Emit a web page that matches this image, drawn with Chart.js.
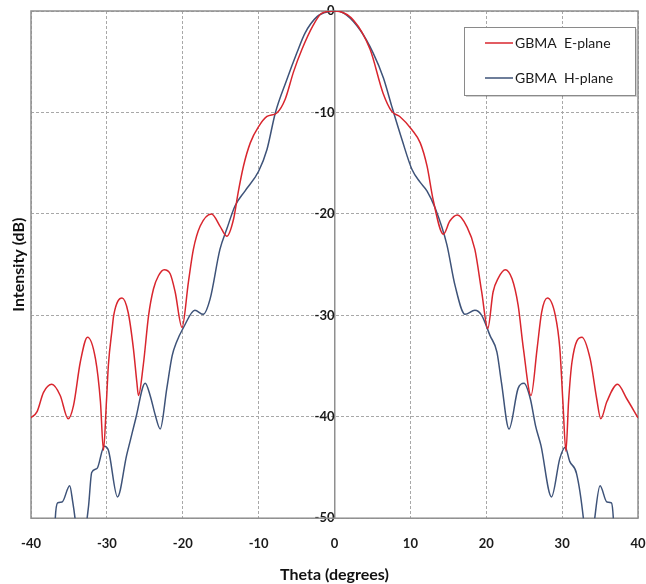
<!DOCTYPE html>
<html>
<head>
<meta charset="utf-8">
<script src="https://cdn.jsdelivr.net/npm/chart.js@4"></script>
<style>
html,body{margin:0;padding:0;background:#fff;}
#wrap{width:646px;height:584px;position:relative;}
</style>
</head>
<body>
<div id="wrap"><canvas id="c" width="646" height="584"></canvas></div>
<script>
// ---- data ----
const xTicks = [-40, -30, -20, -10, 0, 10, 20, 30, 40];
const yTicks = [0, -10, -20, -30, -40, -50];

const seriesNames = ["GBMA  E-plane", "GBMA  H-plane"];

const thetaE = [-40, -39.2, -38.35, -37.25, -36.15, -35.1, -34.4, -33.5, -32.55, -31.5, -30.85, -30.45, -30.05, -29.8, -29.3, -29.1, -28.0, -27.2, -26.5, -26.05, -25.84, -25.2, -24.5, -23.86, -23.2, -22.45, -21.66, -21.0, -20.1, -19.25, -18.6, -17.7, -16.2, -15.1, -14.2, -13.3, -12.7, -12.0, -11.1, -10.0, -8.9, -7.6, -6.5, -5.4, -4.3, -2.8, -1.7, 0, 2.5, 4.7, 6.4, 7.55, 8.6, 10.2, 11.3, 12.2, 13.0, 14.35, 15.2, 16.2, 17.4, 18.5, 19.4, 20.2, 20.9, 21.6, 22.5, 23.4, 24.2, 24.9, 25.9, 26.7, 27.3, 28.05, 29.1, 29.7, 30.1, 30.5, 30.85, 31.3, 32.6, 33.7, 34.55, 35.1, 35.9, 37.3, 38.5, 40];
const dbE    = [-40.1, -39.5, -37.6, -36.8, -37.9, -40.2, -38.9, -34.6, -32.15, -34.3, -38.5, -43.3, -38.4, -34.9, -31.3, -30.0, -28.3, -29.7, -33.3, -36.6, -37.9, -34.9, -30.0, -27.4, -26.1, -25.5, -25.9, -27.7, -31.2, -26.7, -23.5, -21.2, -20.0, -21.2, -22.2, -20.5, -17.9, -15.3, -13.0, -11.4, -10.4, -10.05, -8.7, -6.0, -3.8, -1.4, -0.23, 0, -0.9, -3.8, -8.1, -9.9, -10.4, -11.7, -13.0, -15.3, -18.6, -22.0, -20.7, -20.1, -21.2, -23.5, -27.7, -31.3, -27.7, -26.3, -25.5, -26.4, -29.0, -33.3, -37.9, -33.3, -29.7, -28.3, -30.0, -33.3, -38.5, -43.4, -38.5, -34.6, -32.15, -34.3, -38.2, -40.2, -38.5, -36.8, -38.2, -40.1];

const thetaH = [-40, -37.1, -36.8, -36.5, -35.9, -34.9, -34.5, -34.2, -33.4, -32.6, -32.4, -32.0, -31.3, -30.35, -29.8, -28.6, -27.4, -26.9, -26.2, -24.95, -24.3, -23.6, -22.97, -22.1, -21.4, -20.8, -19.9, -18.4, -17.3, -16.4, -15.1, -14.2, -13.1, -11.8, -10.0, -8.9, -7.8, -6.3, -4.97, -3.9, -2.3, -0.8, 0.3, 1.6, 3.4, 5.1, 6.45, 7.55, 8.9, 10.2, 11.3, 12.2, 13.25, 14.8, 15.9, 17.2, 18.5, 19.4, 20.5, 21.4, 22.0, 23.0, 24.2, 24.98, 25.8, 26.5, 27.2, 28.6, 29.7, 30.4, 31.0, 31.9, 32.8, 33.5, 34.3, 35.0, 35.9, 36.5, 36.75, 37.1, 40];
const dbH    = [-62, -56, -50, -48.5, -48.4, -46.8, -48.4, -50, -56, -50, -48.7, -45.5, -45.1, -42.9, -43.3, -47.9, -43.8, -42.3, -40.2, -36.7, -37.9, -39.9, -41.2, -37.2, -34.0, -32.6, -31.2, -29.5, -29.9, -28.4, -23.5, -21.5, -19.2, -17.75, -15.8, -13.65, -10.05, -6.8, -4.15, -2.2, -0.56, -0.07, 0, -0.4, -1.9, -4.15, -6.6, -9.4, -12.7, -15.6, -16.9, -17.75, -19.4, -23.0, -27.1, -29.9, -29.5, -30.0, -32.0, -33.6, -36.6, -41.2, -37.2, -36.7, -38.2, -40.9, -42.8, -47.9, -44.1, -43.0, -44.4, -45.6, -50, -56, -50, -46.8, -48.4, -48.5, -50, -56, -62];

const colorE = "#d9262e";
const colorH = "#3e5379";
const gridColor = "#a8a8a8";
const frameColor = "#8f8f8f";
const FONT = "Lato, 'Open Sans', 'DejaVu Sans', sans-serif";

const toPoints = (xs, ys) => xs.map((x, i) => ({x: x, y: ys[i]}));

const framePlugin = {
  id: 'frame',
  beforeDatasetsDraw(chart) {
    const {ctx, chartArea: a} = chart;
    ctx.save();
    ctx.strokeStyle = frameColor;
    ctx.lineWidth = 1.5;
    ctx.setLineDash([]);
    ctx.strokeRect(a.left, a.top, a.right - a.left, a.bottom - a.top);
    ctx.restore();
  },
  afterDraw(chart) {
    const {ctx, chartArea: a} = chart;
    ctx.save();
    ctx.fillStyle = "#111";
    ctx.font = "bold 16px " + FONT;
    ctx.textAlign = "center";
    ctx.textBaseline = "middle";
    ctx.translate(19, (a.top + a.bottom) / 2);
    ctx.rotate(-Math.PI / 2);
    ctx.fillText("Intensity (dB)", 0, 0);
    ctx.restore();

    ctx.save();
    const bx = 464, by = 27, bw = 171, bh = 68;
    ctx.fillStyle = "rgba(0,0,0,0.18)";
    ctx.fillRect(bx + 2, by + 2, bw, bh);
    ctx.fillStyle = "#fff";
    ctx.fillRect(bx, by, bw, bh);
    ctx.strokeStyle = "#8a8a8a";
    ctx.lineWidth = 1;
    ctx.strokeRect(bx + 0.5, by + 0.5, bw, bh);
    const rows = [43, 78];
    chart.data.datasets.forEach((ds, i) => {
      const y = rows[i];
      ctx.strokeStyle = ds.borderColor;
      ctx.lineWidth = 1.5;
      ctx.beginPath();
      ctx.moveTo(485, y);
      ctx.lineTo(513, y);
      ctx.stroke();
      ctx.fillStyle = "#1a1a1a";
      ctx.font = "14px " + FONT;
      ctx.textAlign = "left";
      ctx.textBaseline = "middle";
      ctx.fillText(ds.label, 515, y + 0.5);
    });
    ctx.restore();
  }
};

new Chart(document.getElementById('c'), {
  type: 'line',
  plugins: [framePlugin],
  data: {
    datasets: [
      {label: seriesNames[0], data: toPoints(thetaE, dbE), borderColor: colorE, borderWidth: 1.5, pointRadius: 0, cubicInterpolationMode: 'monotone', fill: false},
      {label: seriesNames[1], data: toPoints(thetaH, dbH), borderColor: colorH, borderWidth: 1.5, pointRadius: 0, cubicInterpolationMode: 'monotone', fill: false}
    ]
  },
  options: {
    responsive: false,
    animation: false,
    layout: {padding: {left: 31, right: 8, top: 11, bottom: 0}},
    plugins: {legend: {display: false}, tooltip: {enabled: false}},
    scales: {
      x: {
        type: 'linear',
        min: -40, max: 40,
        afterBuildTicks: (s) => { s.ticks = xTicks.map(v => ({value: v})); },
        ticks: {font: {family: FONT, size: 13, weight: 'bold'}, color: '#1a1a1a', padding: 0, maxRotation: 0, autoSkip: false},
        grid: {color: gridColor, lineWidth: 1, drawTicks: true, tickLength: 18, tickColor: 'rgba(0,0,0,0)'},
        border: {display: false, dash: [3, 2]},
        title: {display: true, text: 'Theta (degrees)', font: {family: FONT, size: 16, weight: 'bold'}, color: '#111', padding: {top: 13, bottom: 0}}
      },
      y: {
        type: 'linear',
        min: -50, max: 0,
        position: {x: 0},
        afterBuildTicks: (s) => { s.ticks = yTicks.map(v => ({value: v})); },
        ticks: {font: {family: FONT, size: 13, weight: 'bold'}, color: '#1a1a1a', padding: 0, autoSkip: false},
        grid: {color: gridColor, lineWidth: 1, drawTicks: true, tickLength: 14, tickColor: 'rgba(0,0,0,0)'},
        border: {display: true, color: frameColor, width: 1.5, dash: [3, 2]}
      }
    }
  }
});
</script>
</body>
</html>
